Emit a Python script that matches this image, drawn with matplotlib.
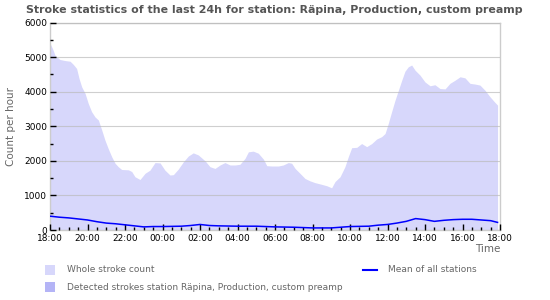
#!/usr/bin/env python3
# -*- coding: utf-8 -*-
"""
Stroke statistics of the last 24h - area + mean line
"""

import matplotlib
matplotlib.use('Agg')
import matplotlib.pyplot as plt
from matplotlib.patches import Rectangle
from matplotlib.lines import Line2D
from matplotlib.ticker import MultipleLocator

# hours after 18:00
hours = [0, 0.13, 0.27, 0.53, 0.8, 1.07, 1.24, 1.42, 1.55, 1.69,
         1.87, 2.04, 2.22, 2.4, 2.58, 2.76, 2.93, 3.1, 3.29, 3.47,
         3.64, 3.82, 4.18, 4.36, 4.53, 4.8, 5.07, 5.33, 5.6, 5.87,
         6.13, 6.4, 6.58, 6.84, 7.11, 7.38, 7.64, 7.91, 8.27, 8.53,
         8.8, 9.07, 9.33, 9.6, 9.87, 10.13, 10.4, 10.58, 10.84, 11.11,
         11.38, 11.56, 11.82, 12.18, 12.44, 12.71, 12.89, 13.07, 13.33, 13.6,
         13.87, 14.13, 14.49, 14.76, 15.02, 15.2, 15.47, 15.73, 15.91, 16.09,
         16.36, 16.62, 16.89, 17.16, 17.42, 17.69, 17.87, 18.04, 18.22, 18.4,
         18.58, 18.76, 18.93, 19.11, 19.29, 19.47, 19.73, 20.0, 20.27, 20.53,
         20.8, 21.07, 21.33, 21.6, 21.87, 22.13, 22.4, 22.67, 22.93, 23.2,
         23.47, 23.73, 23.87]

whole_count = [5400, 5250, 5050, 4930, 4900, 4880, 4790, 4670, 4380, 4140,
               3950, 3660, 3420, 3270, 3180, 2890, 2600, 2360, 2120, 1930,
               1830, 1750, 1740, 1690, 1540, 1460, 1640, 1730, 1950, 1940,
               1730, 1590, 1600, 1760, 1970, 2140, 2230, 2170, 2000, 1830,
               1780, 1880, 1950, 1880, 1880, 1900, 2070, 2260, 2280, 2220,
               2050, 1860, 1850, 1850, 1880, 1950, 1930, 1780, 1640, 1490,
               1420, 1370, 1320, 1280, 1220, 1400, 1540, 1830, 2120, 2380,
               2390, 2500, 2410, 2500, 2630, 2700, 2790, 3080, 3420, 3750,
               4040, 4330, 4590, 4720, 4770, 4620, 4480, 4280, 4170, 4200,
               4090, 4080, 4240, 4330, 4430, 4400, 4240, 4220, 4190, 4040,
               3850, 3690, 3610]

mean_hours = [0, 0.5, 1, 1.5, 2, 2.5, 3, 3.5, 4, 4.5, 5, 5.5, 6, 7, 7.5, 8,
              8.5, 9, 10, 11, 12, 13, 14, 15, 16, 17, 17.5, 18, 18.5, 19,
              19.5, 20, 20.5, 21, 21.5, 22, 22.5, 23, 23.5, 23.87]
mean_all = [400, 370, 350, 320, 290, 240, 200, 180, 150, 120, 90, 100, 100,
            110, 130, 160, 130, 120, 110, 110, 90, 80, 60, 60, 100, 110, 140,
            160, 200, 250, 330, 300, 250, 280, 300, 310, 310, 290, 270, 220]

tick_hours = [0, 2, 4, 6, 8, 10, 12, 14, 16, 18, 20, 22, 24]
tick_labels = ['18:00', '20:00', '22:00', '00:00', '02:00', '04:00', '06:00',
               '08:00', '10:00', '12:00', '14:00', '16:00', '18:00']

title = 'Stroke statistics of the last 24h for station: Räpina, Production, custom preamp'

FILL_WHOLE = '#d7d7fb'
FILL_DET = '#b4b4f6'
LINE_MEAN = '#0000ff'
GRAY = '#666666'

fig = plt.figure(figsize=(5.5, 3.0), dpi=100)
ax = fig.add_axes([50 / 550, 1 - 230 / 300, 450 / 550, 207.5 / 300])

ax.fill_between(hours, 0, whole_count, color=FILL_WHOLE, linewidth=0, zorder=1)
ax.plot(mean_hours, mean_all, color=LINE_MEAN, linewidth=1.1, zorder=3)

ax.set_xlim(0, 24)
ax.set_ylim(0, 6000)
ax.set_xticks(tick_hours)
ax.set_xticklabels(tick_labels)
ax.xaxis.set_minor_locator(MultipleLocator(0.5))
ax.yaxis.set_major_locator(MultipleLocator(1000))
ax.yaxis.set_minor_locator(MultipleLocator(500))

ax.tick_params(axis='both', which='major', direction='in', length=4, width=1,
               labelsize=6.5, colors='black', pad=2)
ax.tick_params(axis='both', which='minor', direction='in', length=2.5, width=1,
               colors='black')
ax.tick_params(axis='x', which='major', pad=3)

ax.set_axisbelow(False)
ax.grid(axis='y', which='major', color='#bbbbbb', linewidth=0.8, alpha=0.7, zorder=2)
for s in ax.spines.values():
    s.set_color('#cccccc')
    s.set_linewidth(1)

ax.set_ylabel('Count per hour', color=GRAY, fontsize=7.5, labelpad=6)
fig.text(500 / 550, 1 - 249 / 300, 'Time', color=GRAY, fontsize=7.5,
         ha='right', va='center')

fig.text(274 / 550, 1 - 10 / 300, title, color='#555555', fontsize=7.95,
         fontweight='bold', ha='center', va='center')

# legend drawn by hand
fig.add_artist(Rectangle((45 / 550, 1 - 275 / 300), 10 / 550, 10 / 300,
                         transform=fig.transFigure, color=FILL_WHOLE, lw=0))
fig.add_artist(Rectangle((45 / 550, 1 - 292 / 300), 10 / 550, 10 / 300,
                         transform=fig.transFigure, color=FILL_DET, lw=0))
fig.text(67 / 550, 1 - 270 / 300, 'Whole stroke count', color=GRAY,
         fontsize=6.5, va='center')
fig.text(67 / 550, 1 - 287 / 300,
         'Detected strokes station Räpina, Production, custom preamp',
         color=GRAY, fontsize=6.5, va='center')
fig.add_artist(Line2D([363 / 550, 377 / 550], [1 - 270 / 300, 1 - 270 / 300],
                      transform=fig.transFigure, color=LINE_MEAN, lw=1.5))
fig.text(388 / 550, 1 - 270 / 300, 'Mean of all stations', color=GRAY,
         fontsize=6.5, va='center')

plt.savefig('out.png', dpi=100)
plt.close()
